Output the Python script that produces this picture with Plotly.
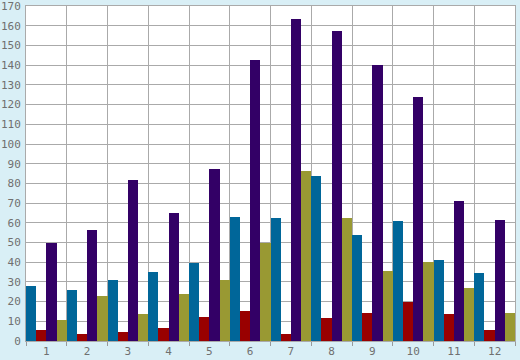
import plotly.graph_objects as go

categories = [str(i) for i in range(1, 13)]
blue_vals = [28.1, 25.7, 31.2, 35.2, 39.8, 63.2, 62.2, 83.6, 54.0, 60.7, 41.3, 34.7]
red_vals = [5.7, 3.4, 4.7, 6.8, 12.4, 15.4, 3.7, 11.8, 14.4, 20.0, 13.9, 5.7]
purple_vals = [49.5, 56.6, 81.5, 65.2, 87.1, 142.5, 163.3, 157.3, 140.0, 123.7, 71.3, 61.2]
olive_vals = [10.8, 23.0, 13.9, 24.0, 31.2, 50.0, 86.1, 62.2, 35.7, 40.3, 27.1, 14.3]
y_ticks = list(range(0, 171, 10))

series = [
    ("Series 1", blue_vals, "#006699"),
    ("Series 2", red_vals, "#990000"),
    ("Series 3", purple_vals, "#330066"),
    ("Series 4", olive_vals, "#999933"),
]

fig = go.Figure()
for name, vals, col in series:
    fig.add_trace(go.Bar(x=categories, y=vals, name=name,
                         marker=dict(color=col, line=dict(width=0))))

font = dict(family="DejaVu Sans Mono", size=11, color="#707070")
fig.update_layout(
    width=520, height=360,
    margin=dict(l=26, r=5, t=6, b=19, autoexpand=False),
    paper_bgcolor="#d9eff6",
    plot_bgcolor="#ffffff",
    barmode="group", bargap=0, bargroupgap=0,
    showlegend=False,
    font=font,
    xaxis=dict(type="category", tickson="boundaries", showgrid=True,
               gridcolor="#aaaaaa", gridwidth=1, automargin=False,
               ticks="outside", ticklen=4, tickcolor="#999999",
               showline=True, linecolor="#aaaaaa", linewidth=1, mirror=True,
               range=[-0.5, 11.5], tickfont=font),
    yaxis=dict(range=[0, 170.05], tickvals=y_ticks, showgrid=True,
               gridcolor="#aaaaaa", gridwidth=1, automargin=False,
               showline=True, linecolor="#aaaaaa", linewidth=1, mirror=True,
               zeroline=False, ticks="", ticklabelstandoff=2, tickfont=font,
               ticklabeloverflow="allow"),
)
fig.write_html(
    "out.html",
    config={"displayModeBar": False},
    post_script="document.body.style.margin='0';document.body.style.background='#d9eff6';",
)
